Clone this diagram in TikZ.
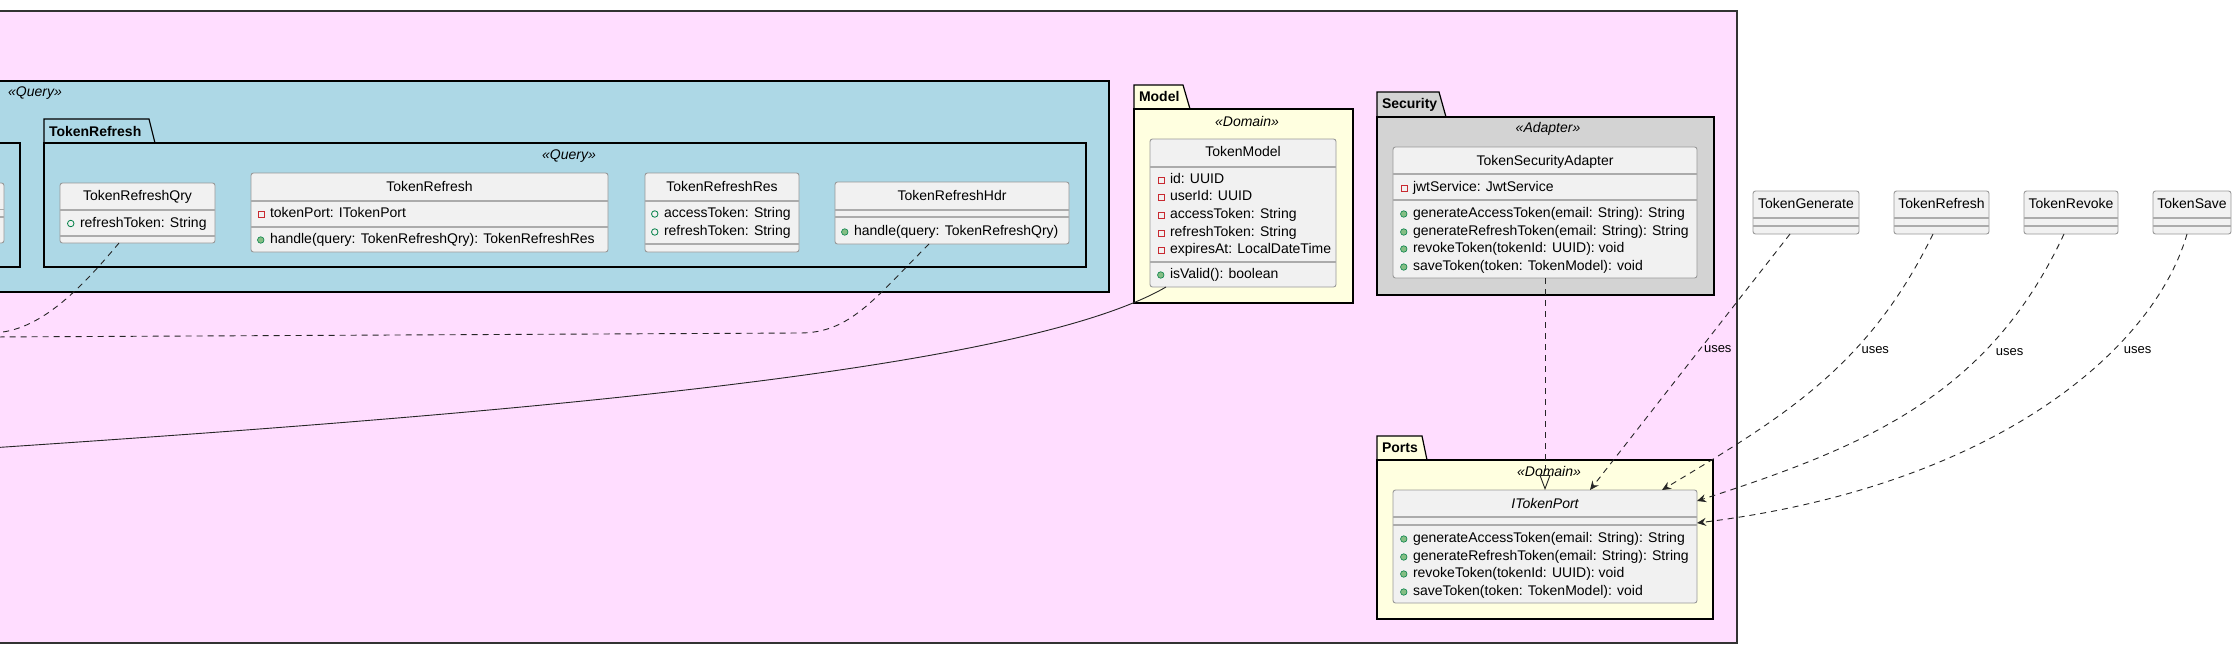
\documentclass[tikz,border=0pt]{standalone}
\usepackage{fontspec}
\setmainfont{Liberation Sans}
\usetikzlibrary{arrows.meta,positioning}

\definecolor{pinkbg}{HTML}{FFDDFF}
\definecolor{qryblue}{HTML}{ADD8E6}
\definecolor{domyellow}{HTML}{FFFFE0}
\definecolor{adaptgray}{HTML}{D3D3D3}
\definecolor{clsfill}{HTML}{F1F1F1}
\definecolor{clsline}{HTML}{999999}
\definecolor{sepline}{HTML}{ABABAB}
\definecolor{pubgreen}{HTML}{038048}
\definecolor{pubfill}{HTML}{84BE84}
\definecolor{privred}{HTML}{C82930}

\begin{document}
\begin{tikzpicture}[x=1pt, y=-1pt, font=\fontsize{14}{16}\selectfont,
    every node/.style={inner sep=0pt, outer sep=0pt},
    label distance=6pt,
    frame/.style={draw=black!80, line width=1.2pt},
    pkg/.style={draw=black, line width=1.2pt},
    pkgname/.style={anchor=west, font=\fontsize{14}{16}\selectfont\bfseries},
    stereo/.style={font=\fontsize{14}{16}\selectfont\itshape},
    cls/.style={draw=clsline, fill=clsfill, rounded corners=2.5pt, line width=0.9pt, anchor=north west},
    sep/.style={draw=sepline, line width=1.3pt},
    ttl/.style={text height=10pt, text depth=3pt},
    mbr/.style={anchor=west, text height=10pt, text depth=3pt},
    pf/.style={mbr, label={[pfdot]left:{}}},
    pm/.style={mbr, label={[pmdot]left:{}}},
    pv/.style={mbr, label={[pvbox]left:{}}},
    pfdot/.style={circle, draw=pubgreen, line width=0.8pt, minimum size=6.5pt},
    pmdot/.style={circle, draw=pubgreen, fill=pubfill, line width=0.6pt, minimum size=6.5pt},
    pvbox/.style={rectangle, draw=privred, line width=0.8pt, minimum size=6pt},
    dep/.style={draw=black!85, line width=0.9pt, dash pattern=on 6pt off 5pt},
    uses/.style={dep, -{Stealth[length=9pt, width=8pt, inset=3pt]}},
    realize/.style={dep, -{Triangle[open, length=15pt, width=11pt]}},
    assoc/.style={draw=black!85, line width=0.9pt},
    lbl/.style={font=\fontsize{13}{15}\selectfont, text height=9pt, text depth=3pt}]

  \useasboundingbox[fill=white] (0,0) rectangle (2237,648);
  \clip (0,0) rectangle (2237,648);

  % outer frame and the Query package (cut at the left)
  \draw[frame, fill=pinkbg] (-20,11) rectangle (1737,643);
  \draw[pkg, fill=qryblue] (-20,81) rectangle (1109,292);
  \node[stereo] at (35,93) {«Query»};

  \draw[pkg, fill=qryblue] (-20,143) rectangle (20,267);
  \node[cls, minimum width=24pt, minimum height=60pt] (cutcls) at (-20,183) {};
  \draw[sep] (-20,209.5) -- (4,209.5) (-20,217) -- (4,217);

  % TokenRefresh package
  \draw[pkg, fill=qryblue] (44,143) -- (44,119) -- (149,119) -- (155,143) -- cycle;
  \draw[pkg, fill=qryblue] (44,143) rectangle (1086,267);
  \node[pkgname] at (49,131) {TokenRefresh};
  \node[stereo] at (569,156) {«Query»};

  \node[cls, minimum width=155pt, minimum height=60pt] (qry) at (60,183) {};
  \draw[sep] (60,210) -- (215,210) (60,236) -- (215,236);
  \node[ttl] at (137.5,197) {TokenRefreshQry};
  \node[pf] at (80,223.5) {refreshToken: String};

  \node[cls, minimum width=357pt, minimum height=79pt] (trf) at (251,173) {};
  \draw[sep] (251,201) -- (608,201) (251,227) -- (608,227);
  \node[ttl] at (429.5,188) {TokenRefresh};
  \node[pv] at (270,214) {tokenPort: ITokenPort};
  \node[pm] at (270,240) {handle(query: TokenRefreshQry): TokenRefreshRes};

  \node[cls, minimum width=154pt, minimum height=79pt] (res) at (645,173) {};
  \draw[sep] (645,201) -- (799,201) (645,244) -- (799,244);
  \node[ttl] at (722,188) {TokenRefreshRes};
  \node[pf] at (664,214) {accessToken: String};
  \node[pf] at (664,232) {refreshToken: String};

  \node[cls, minimum width=234pt, minimum height=62pt] (hdr) at (835,182) {};
  \draw[sep] (835,210) -- (1069,210) (835,217) -- (1069,217);
  \node[ttl] at (952,197) {TokenRefreshHdr};
  \node[pm] at (854,232) {handle(query: TokenRefreshQry)};

  % Model package
  \draw[pkg, fill=domyellow] (1134,109) -- (1134,85) -- (1183,85) -- (1190,109) -- cycle;
  \draw[pkg, fill=domyellow] (1134,109) rectangle (1353,303);
  \node[pkgname] at (1139,96) {Model};
  \node[stereo] at (1247,121) {«Domain»};

  \node[cls, minimum width=186pt, minimum height=148pt] (tmodel) at (1150,139) {};
  \draw[sep] (1150,167) -- (1336,167) (1150,262) -- (1336,262);
  \node[ttl] at (1243,153) {TokenModel};
  \node[pv] at (1170,180) {id: UUID};
  \node[pv] at (1170,197) {userId: UUID};
  \node[pv] at (1170,215) {accessToken: String};
  \node[pv] at (1170,233) {refreshToken: String};
  \node[pv] at (1170,250) {expiresAt: LocalDateTime};
  \node[pm] at (1170,275) {isValid(): boolean};

  % Security package
  \draw[pkg, fill=adaptgray] (1377,117) -- (1377,92) -- (1439,92) -- (1446,117) -- cycle;
  \draw[pkg, fill=adaptgray] (1377,117) rectangle (1714,295);
  \node[pkgname] at (1382,105) {Security};
  \node[stereo] at (1548,129) {«Adapter»};

  \node[cls, minimum width=304pt, minimum height=131pt] (secad) at (1393,147) {};
  \draw[sep] (1393,174) -- (1697,174) (1393,200) -- (1697,200);
  \node[ttl] at (1545,162) {TokenSecurityAdapter};
  \node[pv] at (1413,188) {jwtService: JwtService};
  \node[pm] at (1413,214) {generateAccessToken(email: String): String};
  \node[pm] at (1413,232) {generateRefreshToken(email: String): String};
  \node[pm] at (1413,249) {revokeToken(tokenId: UUID): void};
  \node[pm] at (1413,267) {saveToken(token: TokenModel): void};

  % Ports package
  \draw[pkg, fill=domyellow] (1377,460) -- (1377,436) -- (1422,436) -- (1427,460) -- cycle;
  \draw[pkg, fill=domyellow] (1377,460) rectangle (1713,619);
  \node[pkgname] at (1382,448) {Ports};
  \node[stereo] at (1549,471) {«Domain»};

  \node[cls, minimum width=304pt, minimum height=113pt] (port) at (1393,490) {};
  \draw[sep] (1393,517) -- (1697,517) (1393,525) -- (1697,525);
  \node[ttl, font=\fontsize{14}{16}\selectfont\itshape] at (1545,505) {ITokenPort};
  \node[pm] at (1413,539) {generateAccessToken(email: String): String};
  \node[pm] at (1413,557) {generateRefreshToken(email: String): String};
  \node[pm] at (1413,574) {revokeToken(tokenId: UUID): void};
  \node[pm] at (1413,592) {saveToken(token: TokenModel): void};

  % use cases outside the frame
  \node[cls, minimum width=106pt, minimum height=43pt] (tgen) at (1753,191) {};
  \node[cls, minimum width=95pt, minimum height=43pt, right=35pt of tgen.north east, anchor=north west] (tref) {};
  \node[cls, minimum width=94pt, minimum height=43pt, right=35pt of tref.north east, anchor=north west] (trev) {};
  \node[cls, minimum width=78pt, minimum height=43pt, right=35pt of trev.north east, anchor=north west] (tsave) {};
  \node[ttl] at ([yshift=-14pt]tgen.north) {TokenGenerate};
  \node[ttl] at ([yshift=-14pt]tref.north) {TokenRefresh};
  \node[ttl] at ([yshift=-14pt]trev.north) {TokenRevoke};
  \node[ttl] at ([yshift=-14pt]tsave.north) {TokenSave};
  \draw[sep] ([yshift=-27pt]tgen.north west) -- ([yshift=-27pt]tgen.north east)
             ([yshift=-35pt]tgen.north west) -- ([yshift=-35pt]tgen.north east)
             ([yshift=-27pt]tref.north west) -- ([yshift=-27pt]tref.north east)
             ([yshift=-35pt]tref.north west) -- ([yshift=-35pt]tref.north east)
             ([yshift=-27pt]trev.north west) -- ([yshift=-27pt]trev.north east)
             ([yshift=-35pt]trev.north west) -- ([yshift=-35pt]trev.north east)
             ([yshift=-27pt]tsave.north west) -- ([yshift=-27pt]tsave.north east)
             ([yshift=-35pt]tsave.north west) -- ([yshift=-35pt]tsave.north east);

  % connectors
  \coordinate (offa) at (-10,333);
  \coordinate (offb) at (-10,337);
  \coordinate (offc) at (-10,448);
  \coordinate (hdrknee) at (800,333);

  \draw[dep] ([xshift=-18.5pt]qry.south) .. controls (74,297) and (35,333) .. (offa);
  \draw[dep] ([xshift=-23pt]hdr.south) .. controls (874,299) and (850,333) .. (hdrknee) -- (offb);
  \draw[assoc] ([xshift=-77pt]tmodel.south) .. controls (1020,372) and (499,414) .. (offc);

  \draw[realize] (secad.south) -- (port.north);

  \draw[uses] ([xshift=-16pt]tgen.south) -- node[lbl, pos=0.45, anchor=west, xshift=4pt] {uses} ([xshift=45pt]port.north);
  \draw[uses] ([xshift=-8.5pt]tref.south) .. controls (1869,365) and (1787,415) .. node[lbl, pos=0.365, anchor=west, xshift=7pt] {uses} ([xshift=117pt]port.north);
  \draw[uses] ([xshift=-7pt]trev.south) .. controls (1989,395) and (1867,446) .. node[lbl, pos=0.3, anchor=west, xshift=12pt] {uses} ([yshift=45.5pt]port.east);
  \draw[uses] ([xshift=-5pt]tsave.south) .. controls (2154,349) and (1996,486) .. node[lbl, pos=0.33, anchor=west, xshift=11pt] {uses} ([yshift=23.5pt]port.east);
\end{tikzpicture}
\end{document}
